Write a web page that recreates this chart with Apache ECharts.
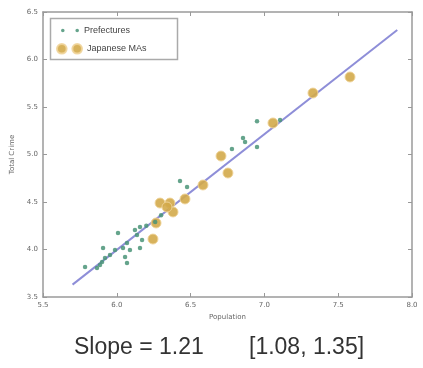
<!DOCTYPE html>
<html>
<head>
<meta charset="utf-8">
<script src="https://cdn.jsdelivr.net/npm/echarts@6/dist/echarts.min.js"></script>
<style>
html,body{margin:0;padding:0;background:#fff;}
#c{width:423px;height:368px;}
</style>
</head>
<body>
<div id="c"></div>
<script>
// Prefectures (log10 population, log10 total crime)
const prefX = [6.95, 7.106, 6.855, 6.869, 6.78, 6.95, 6.428, 6.476, 6.157, 6.123, 6.008, 6.171, 6.069, 6.042, 6.157, 5.907, 5.954, 5.92, 6.056, 6.069, 5.90, 5.866, 5.785, 5.886, 6.089, 5.988, 6.137, 6.26, 6.20, 6.30];
const prefY = [5.35, 5.363, 5.174, 5.132, 5.058, 5.079, 4.721, 4.658, 4.237, 4.205, 4.174, 4.10, 4.068, 4.016, 4.016, 4.016, 3.942, 3.91, 3.921, 3.858, 3.868, 3.805, 3.816, 3.837, 3.995, 3.995, 4.153, 4.29, 4.25, 4.36];
// Japanese metropolitan areas
const maX = [7.58, 7.329, 7.058, 6.706, 6.753, 6.584, 6.462, 6.293, 6.36, 6.381, 6.34, 6.266, 6.245];
const maY = [5.816, 5.647, 5.332, 4.984, 4.805, 4.679, 4.532, 4.489, 4.489, 4.395, 4.447, 4.279, 4.11];
// Fitted line endpoints
const fitX = [5.70, 7.90];
const fitY = [3.63, 6.31];
const xTicks = [5.5, 8.0, 0.5];
const yTicks = [3.5, 6.5, 0.5];
const slopeText = 'Slope = 1.21';
const ciText = '[1.08, 1.35]';

const chart = echarts.init(document.getElementById('c'), null, {renderer: 'canvas'});
const lblStyle = {fontSize: 7, color: '#666', fontFamily: 'DejaVu Sans'};
const frameLine = {show: true, lineStyle: {color: '#9a9a9a', width: 1.5}};
const tick = {show: true, inside: true, length: 4, lineStyle: {color: '#999'}};
const fmt = v => v.toFixed(1);

chart.setOption({
  animation: false,
  grid: {left: 43, right: 11, top: 12, bottom: 71},
  xAxis: [{
    type: 'value', min: xTicks[0], max: xTicks[1], interval: xTicks[2],
    axisLine: frameLine, axisTick: tick, splitLine: {show: false},
    axisLabel: Object.assign({formatter: fmt, margin: 5}, lblStyle),
    name: 'Population', nameLocation: 'middle', nameGap: 14,
    nameTextStyle: {fontSize: 7, color: '#666', fontFamily: 'DejaVu Sans'}
  }, {
    type: 'value', position: 'top', min: xTicks[0], max: xTicks[1], interval: xTicks[2],
    axisLine: frameLine, axisTick: tick, axisLabel: {show: false}, splitLine: {show: false}
  }],
  yAxis: [{
    type: 'value', min: yTicks[0], max: yTicks[1], interval: yTicks[2],
    axisLine: frameLine, axisTick: tick, splitLine: {show: false},
    axisLabel: Object.assign({formatter: fmt, margin: 5}, lblStyle),
    name: 'Total Crime', nameLocation: 'middle', nameGap: 20,
    nameTextStyle: {fontSize: 7, color: '#666', fontFamily: 'DejaVu Sans'}
  }, {
    type: 'value', position: 'right', min: yTicks[0], max: yTicks[1], interval: yTicks[2],
    axisLine: frameLine, axisTick: tick, axisLabel: {show: false}, splitLine: {show: false}
  }],
  legend: [{
    data: [{name: 'Prefectures', icon: 'path://M0,0 a1,1 0 1,0 2,0 a1,1 0 1,0 -2,0 M8,0 a1,1 0 1,0 2,0 a1,1 0 1,0 -2,0'}],
    left: 56, top: 21, itemWidth: 18, itemHeight: 4, itemGap: 4,
    textStyle: {fontSize: 9, color: '#444', fontFamily: 'Liberation Sans'}
  }, {
    data: [{name: 'Japanese MAs', icon: 'path://M0,0 a1,1 0 1,0 2,0 a1,1 0 1,0 -2,0 M3.2,0 a1,1 0 1,0 2,0 a1,1 0 1,0 -2,0'}],
    left: 51, top: 38, itemWidth: 25, itemHeight: 10, itemGap: 4,
    textStyle: {fontSize: 9, color: '#444', fontFamily: 'Liberation Sans'}
  }],
  graphic: [
    {type: 'rect', left: 48, top: 16, shape: {width: 127, height: 41},
     style: {fill: 'none', stroke: '#aaa', lineWidth: 1.5}, z: 1},
    {type: 'text', left: 74, top: 336, style: {text: slopeText, font: '23px "Liberation Sans", Arial, sans-serif', fill: '#333'}},
    {type: 'text', left: 249, top: 336, style: {text: ciText, font: '23px "Liberation Sans", Arial, sans-serif', fill: '#333'}}
  ],
  series: [{
    name: 'Fit', type: 'line', data: fitX.map((x, i) => [x, fitY[i]]),
    symbol: 'none', lineStyle: {color: '#8e8ed8', width: 2}, z: 2
  }, {
    name: 'Prefectures', type: 'scatter', data: prefX.map((x, i) => [x, prefY[i]]),
    symbolSize: 4.5, itemStyle: {color: '#4a9478', opacity: 0.85}, z: 4
  }, {
    name: 'Japanese MAs', type: 'scatter', data: maX.map((x, i) => [x, maY[i]]),
    symbolSize: 10, itemStyle: {color: '#d3aa4a', opacity: 0.9, borderColor: '#f0d49a', borderWidth: 1}, z: 3
  }]
});
</script>
</body>
</html>
